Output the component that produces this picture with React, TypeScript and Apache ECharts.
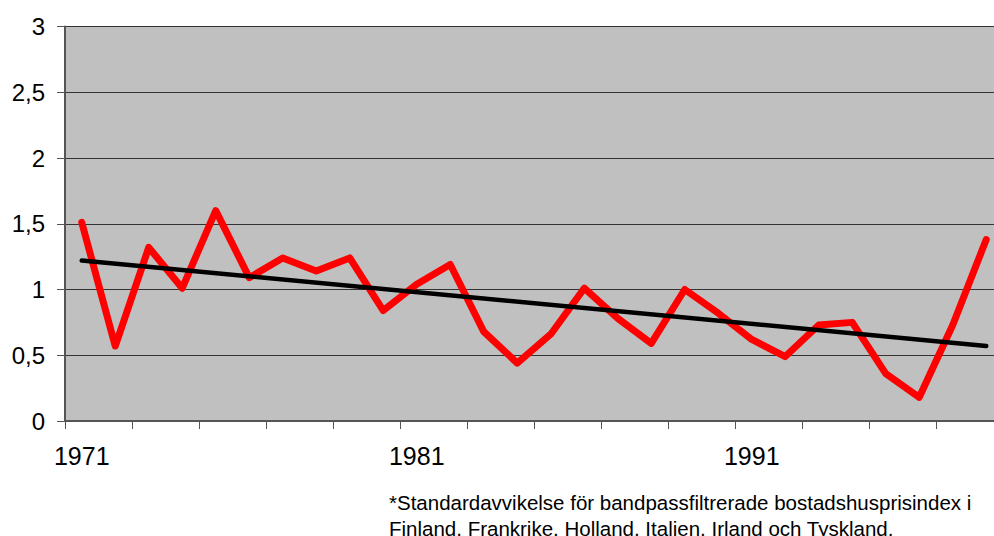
import React, { useEffect, useRef } from "react";
import * as echarts from "echarts";

const years = [
  "1971", "1972", "1973", "1974", "1975", "1976", "1977", "1978", "1979", "1980",
  "1981", "1982", "1983", "1984", "1985", "1986", "1987", "1988", "1989", "1990",
  "1991", "1992", "1993", "1994", "1995", "1996", "1997", "1998",
];
const volatility = [
  1.51, 0.57, 1.32, 1.01, 1.60, 1.09, 1.24, 1.14, 1.24, 0.84,
  1.04, 1.19, 0.68, 0.44, 0.66, 1.01, 0.78, 0.59, 1.00, 0.82,
  0.62, 0.49, 0.73, 0.75, 0.36, 0.18, 0.73, 1.38,
];
const trendYears = ["1971", "1998"];
const trendValues = [1.22, 0.57];
const yTicks = [0, 0.5, 1, 1.5, 2, 2.5, 3];
const footnoteLines = [
  "*Standardavvikelse för bandpassfiltrerade bostadshusprisindex i",
  "Finland, Frankrike, Holland, Italien, Irland och Tyskland.",
];

export default function App() {
  const ref = useRef<HTMLDivElement>(null);
  useEffect(() => {
    if (!ref.current) return;
    const chart = echarts.init(ref.current, null, { renderer: "svg" });
    const font = "'Liberation Sans', Arial, sans-serif";
    chart.setOption({
      animation: false,
      backgroundColor: "#ffffff",
      grid: {
        left: 65,
        top: 26.5,
        width: 938,
        height: 394.5,
        show: true,
        backgroundColor: "#C0C0C0",
        borderWidth: 0,
      },
      xAxis: {
        type: "category",
        data: years,
        boundaryGap: true,
        axisLine: { show: true, lineStyle: { color: "#555555", width: 2 } },
        axisTick: {
          show: true,
          length: 8,
          interval: (i: number) => i % 2 === 0,
          lineStyle: { color: "#555555", width: 1 },
        },
        axisLabel: {
          interval: (i: number) => i % 10 === 0,
          fontFamily: font,
          fontSize: 25,
          color: "#000000",
          margin: 22,
        },
        splitLine: { show: false },
      },
      yAxis: {
        type: "value",
        min: yTicks[0],
        max: yTicks[yTicks.length - 1],
        interval: 0.5,
        axisLine: { show: true, lineStyle: { color: "#555555", width: 2 } },
        axisTick: { show: true, length: 8, lineStyle: { color: "#555555", width: 1 } },
        axisLabel: {
          fontFamily: font,
          fontSize: 24,
          color: "#000000",
          margin: 20,
          formatter: (v: number) => String(v).replace(".", ","),
        },
        splitLine: { show: true, lineStyle: { color: "#333333", width: 1 } },
      },
      series: [
        {
          type: "line",
          data: volatility,
          symbol: "none",
          lineStyle: { color: "#FF0000", width: 7, cap: "round", join: "round" },
          z: 2,
        },
        {
          type: "line",
          data: trendYears.map((y, i) => [y, trendValues[i]]),
          symbol: "none",
          lineStyle: { color: "#000000", width: 4.5, cap: "round" },
          z: 3,
        },
      ],
      graphic: footnoteLines.map((t, i) => ({
        type: "text",
        left: 389,
        top: 492 + i * 26,
        style: {
          text: t,
          fontFamily: font,
          fontSize: 20.5,
          fill: "#000000",
        },
      })),
    });
    return () => chart.dispose();
  }, []);
  return (
    <div
      style={{
        position: "absolute",
        left: 0,
        top: 0,
        width: 994,
        height: 536,
        overflow: "hidden",
      }}
    >
      <div ref={ref} style={{ width: 1012, height: 536 }} />
    </div>
  );
}
